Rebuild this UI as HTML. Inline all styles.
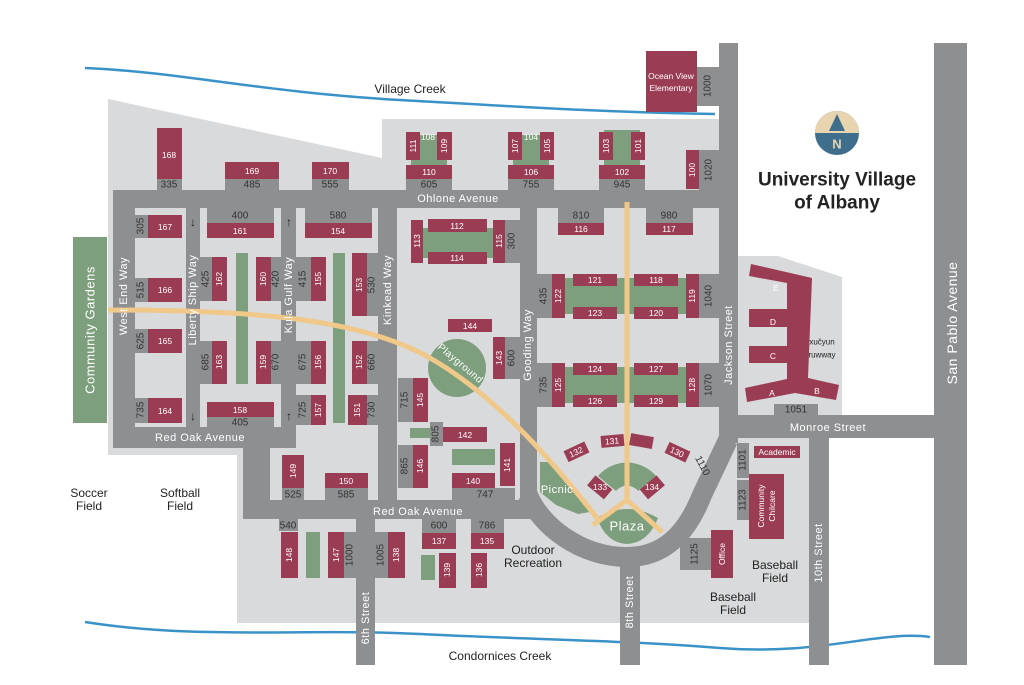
<!DOCTYPE html>
<html><head><meta charset="utf-8"><style>
html,body{margin:0;padding:0;background:#fff;}
svg{display:block;font-family:"Liberation Sans",sans-serif;}
.b{fill:#9b3c55}.r{fill:#8e8f91}.g{fill:#7d9f7d}.l{fill:#d9dadb}
text{text-anchor:middle;dominant-baseline:central}
.w{fill:#fff;font-size:8.5px}
.n{fill:#333;font-size:10px}
.s{fill:#fff;font-size:11px;letter-spacing:.5px}
.d{fill:#222;font-size:12px}
</style></head><body>
<svg width="1024" height="685" viewBox="0 0 1024 685">
<!-- light areas -->
<polygon class="l" points="108,99 382,158 382,119 720,119 720,438 809,438 809,623 237,623 237,455 108,455"/>
<polygon class="l" points="738,256 778,256 842,277 842,415 738,415"/>
<!-- creeks -->
<path d="M85,68 C180,72 260,92 400,100 S600,112 715,114" fill="none" stroke="#3a93c8" stroke-width="2.5"/>
<path d="M85,622 C200,640 300,628 420,634 S620,640 720,648 S880,630 930,637" fill="none" stroke="#3a93c8" stroke-width="2.5"/>
<!-- roads -->
<g class="r">
<rect x="113" y="190" width="625" height="18"/>
<rect x="113" y="190" width="22" height="258"/>
<rect x="113" y="427" width="183" height="21"/>
<rect x="243" y="427" width="27" height="92"/>
<rect x="186" y="208" width="14" height="219"/>
<rect x="281" y="208" width="15" height="219"/>
<rect x="378" y="208" width="19" height="311"/>
<rect x="520" y="208" width="17" height="300"/>
<rect x="719" y="43" width="19" height="400"/>
<rect x="243" y="500" width="290" height="19"/>
<rect x="356" y="519" width="19" height="146"/>
<rect x="620" y="555" width="20" height="110"/>
<rect x="809" y="438" width="20" height="227"/>
<rect x="738" y="415" width="229" height="23"/>
<rect x="934" y="43" width="33" height="622"/>
</g>
<path d="M528,495 C540,525 580,557 627,557 C670,557 690,525 702,495 L728,440" fill="none" stroke="#8e8f91" stroke-width="20"/>
<!-- stubs -->
<g class="r">
<rect x="157" y="179" width="25" height="11"/><rect x="225" y="179" width="54" height="11"/><rect x="312" y="179" width="37" height="11"/>
<rect x="406" y="179" width="46" height="11"/><rect x="508" y="179" width="46" height="11"/><rect x="599" y="179" width="46" height="11"/>
<rect x="699" y="150" width="20" height="40"/><rect x="697" y="67" width="22" height="39"/>
<rect x="135" y="215" width="13" height="23"/><rect x="135" y="278" width="13" height="24"/><rect x="135" y="329" width="13" height="24"/><rect x="135" y="398" width="13" height="25"/>
<rect x="207" y="208" width="67" height="15"/><rect x="305" y="208" width="67" height="15"/>
<rect x="200" y="257" width="12" height="44"/><rect x="271" y="257" width="10" height="44"/><rect x="296" y="257" width="15" height="44"/><rect x="367" y="253" width="11" height="63"/>
<rect x="200" y="341" width="12" height="43"/><rect x="271" y="341" width="10" height="43"/><rect x="296" y="341" width="15" height="43"/><rect x="367" y="341" width="11" height="43"/>
<rect x="207" y="417" width="67" height="10"/><rect x="296" y="395" width="15" height="30"/><rect x="367" y="395" width="11" height="30"/>
<rect x="505" y="220" width="15" height="43"/><rect x="558" y="208" width="46" height="15"/><rect x="646" y="208" width="47" height="15"/>
<rect x="537" y="274" width="15" height="44"/><rect x="699" y="274" width="20" height="44"/><rect x="505" y="337" width="15" height="42"/>
<rect x="537" y="363" width="15" height="44"/><rect x="699" y="363" width="20" height="44"/>
<rect x="398" y="378" width="15" height="44"/><rect x="430" y="422" width="13" height="24"/><rect x="398" y="445" width="15" height="43"/>
<rect x="282" y="488" width="22" height="12"/><rect x="325" y="488" width="43" height="12"/><rect x="452" y="488" width="63" height="12"/>
<rect x="279" y="519" width="19" height="12"/><rect x="344" y="532" width="12" height="46"/><rect x="375" y="532" width="13" height="46"/>
<rect x="422" y="519" width="34" height="14"/><rect x="471" y="519" width="33" height="14"/>
<rect x="774" y="404" width="44" height="11"/><rect x="737" y="443" width="12" height="35"/><rect x="737" y="480" width="12" height="40"/><rect x="680" y="538" width="31" height="32"/>
</g>
<!-- greens -->
<g class="g">
<rect x="73" y="237" width="34" height="186"/>
<rect x="411" y="135" width="36" height="30"/><rect x="513" y="135" width="36" height="30"/><rect x="604" y="130" width="36" height="35"/>
<rect x="236" y="253" width="12" height="131"/><rect x="333" y="253" width="12" height="170"/>
<rect x="423" y="228" width="70" height="30"/>
<rect x="565" y="278" width="121" height="36"/><rect x="565" y="367" width="121" height="36"/>
<circle cx="457" cy="368" r="29"/>
<rect x="410" y="428" width="20" height="10"/><rect x="452" y="449" width="43" height="16"/>
<rect x="306" y="532" width="14" height="46"/><rect x="421" y="555" width="14" height="25"/>
<polygon points="540,462 548,462 590,512 578,514 556,505 540,492"/>
<path d="M598,476 A38,38 0 0 1 656,476 L638,491 A14,14 0 0 0 616,491 Z"/>
<path d="M597,518 Q627,500 658,518 Q648,543 627,544 Q606,543 597,518 Z"/>
</g>
<!-- tan paths -->
<g fill="none" stroke="#f0c88a" stroke-width="5">
<path d="M108,310 C250,310 360,318 430,358 S560,470 600,522"/>
<path d="M627,202 L627,500 L662,532 M627,500 L593,525"/>
</g>
<!-- buildings -->
<g class="b">
<rect x="646" y="51" width="51" height="61"/>
<rect x="157" y="128" width="25" height="51"/><rect x="225" y="162" width="54" height="17"/><rect x="312" y="162" width="37" height="17"/>
<rect x="406" y="132" width="14" height="28"/><rect x="437" y="132" width="15" height="28"/><rect x="406" y="165" width="46" height="14"/>
<rect x="508" y="132" width="14" height="28"/><rect x="540" y="132" width="14" height="28"/><rect x="508" y="165" width="46" height="14"/>
<rect x="599" y="132" width="14" height="28"/><rect x="631" y="132" width="14" height="28"/><rect x="599" y="165" width="46" height="14"/>
<rect x="686" y="150" width="13" height="39"/>
<rect x="148" y="215" width="34" height="23"/><rect x="207" y="223" width="67" height="15"/><rect x="305" y="223" width="67" height="15"/>
<rect x="212" y="257" width="15" height="44"/><rect x="256" y="257" width="15" height="44"/><rect x="311" y="257" width="15" height="44"/><rect x="352" y="253" width="15" height="63"/>
<rect x="148" y="278" width="34" height="24"/><rect x="148" y="329" width="34" height="24"/>
<rect x="212" y="341" width="15" height="43"/><rect x="256" y="341" width="15" height="43"/><rect x="311" y="341" width="15" height="43"/><rect x="352" y="341" width="15" height="43"/>
<rect x="148" y="398" width="34" height="25"/><rect x="207" y="402" width="67" height="15"/>
<rect x="311" y="395" width="15" height="30"/><rect x="348" y="395" width="19" height="30"/>
<rect x="428" y="219" width="59" height="13"/><rect x="411" y="220" width="12" height="43"/><rect x="428" y="252" width="59" height="12"/><rect x="493" y="220" width="12" height="43"/>
<rect x="558" y="223" width="46" height="12"/><rect x="646" y="223" width="47" height="12"/>
<rect x="552" y="274" width="13" height="44"/><rect x="573" y="274" width="44" height="12"/><rect x="634" y="274" width="44" height="12"/><rect x="573" y="307" width="44" height="12"/><rect x="634" y="307" width="44" height="12"/><rect x="686" y="274" width="13" height="44"/>
<rect x="552" y="363" width="13" height="44"/><rect x="573" y="363" width="44" height="12"/><rect x="634" y="363" width="44" height="12"/><rect x="573" y="395" width="44" height="12"/><rect x="634" y="395" width="44" height="12"/><rect x="686" y="363" width="13" height="44"/>
<rect x="448" y="319" width="44" height="13"/><rect x="493" y="337" width="12" height="42"/>
<rect x="413" y="378" width="15" height="44"/><rect x="443" y="427" width="44" height="15"/>
<rect x="413" y="445" width="15" height="43"/><rect x="500" y="443" width="15" height="43"/><rect x="452" y="473" width="43" height="15"/>
<rect x="282" y="455" width="22" height="33"/><rect x="325" y="473" width="43" height="15"/>
<rect x="281" y="532" width="17" height="46"/><rect x="328" y="532" width="16" height="46"/><rect x="388" y="532" width="17" height="46"/>
<rect x="422" y="533" width="34" height="16"/><rect x="439" y="553" width="17" height="35"/><rect x="471" y="533" width="33" height="16"/><rect x="471" y="553" width="16" height="35"/>
<rect x="754" y="446" width="46" height="12"/><rect x="749" y="474" width="35" height="65"/><rect x="711" y="530" width="22" height="48"/>
<rect x="565" y="446" width="23" height="12" transform="rotate(-25 576 452)"/>
<rect x="601" y="435" width="23" height="12" transform="rotate(-5 612 441)"/>
<rect x="630" y="435" width="23" height="12" transform="rotate(10 641 441)"/>
<rect x="666" y="446" width="23" height="12" transform="rotate(25 677 452)"/>
<rect x="589" y="481" width="22" height="13" transform="rotate(40 600 487)"/>
<rect x="641" y="481" width="22" height="13" transform="rotate(-40 652 487)"/>
<polygon points="787,283 749,276 751,264 812,278 808,378 839,385 836,400 795,393 747,402 745,388 787,379 787,363 749,363 749,346 787,346 787,327 749,327 749,309 787,309"/>
</g>
<!-- building labels -->
<g class="w">
<text x="671" y="76">Ocean View</text><text x="671" y="88">Elementary</text>
<text x="169" y="155">168</text><text x="252" y="171">169</text><text x="330" y="171">170</text>
<text x="413" y="146" transform="rotate(-90 413 146)">111</text><text x="428" y="137">108</text><text x="444" y="146" transform="rotate(-90 444 146)">109</text><text x="429" y="172">110</text>
<text x="515" y="146" transform="rotate(-90 515 146)">107</text><text x="531" y="137">104</text><text x="547" y="146" transform="rotate(-90 547 146)">105</text><text x="531" y="172">106</text>
<text x="606" y="146" transform="rotate(-90 606 146)">103</text><text x="638" y="146" transform="rotate(-90 638 146)">101</text><text x="622" y="172">102</text>
<text x="692" y="170" transform="rotate(-90 692 170)">100</text>
<text x="165" y="227">167</text><text x="240" y="231">161</text><text x="338" y="231">154</text>
<text x="219" y="279" transform="rotate(-90 219 279)">162</text><text x="263" y="279" transform="rotate(-90 263 279)">160</text><text x="318" y="279" transform="rotate(-90 318 279)">155</text><text x="359" y="285" transform="rotate(-90 359 285)">153</text>
<text x="165" y="290">166</text><text x="165" y="341">165</text>
<text x="219" y="362" transform="rotate(-90 219 362)">163</text><text x="263" y="362" transform="rotate(-90 263 362)">159</text><text x="318" y="362" transform="rotate(-90 318 362)">156</text><text x="359" y="362" transform="rotate(-90 359 362)">152</text>
<text x="165" y="411">164</text><text x="240" y="410">158</text>
<text x="318" y="410" transform="rotate(-90 318 410)">157</text><text x="357" y="410" transform="rotate(-90 357 410)">151</text>
<text x="457" y="226">112</text><text x="417" y="241" transform="rotate(-90 417 241)">113</text><text x="457" y="258">114</text><text x="499" y="241" transform="rotate(-90 499 241)">115</text>
<text x="581" y="229">116</text><text x="669" y="229">117</text>
<text x="558" y="296" transform="rotate(-90 558 296)">122</text><text x="595" y="280">121</text><text x="656" y="280">118</text><text x="595" y="313">123</text><text x="656" y="313">120</text><text x="692" y="296" transform="rotate(-90 692 296)">119</text>
<text x="558" y="385" transform="rotate(-90 558 385)">125</text><text x="595" y="369">124</text><text x="656" y="369">127</text><text x="595" y="401">126</text><text x="656" y="401">129</text><text x="692" y="385" transform="rotate(-90 692 385)">128</text>
<text x="470" y="326">144</text><text x="499" y="358" transform="rotate(-90 499 358)">143</text>
<text x="420" y="400" transform="rotate(-90 420 400)">145</text><text x="465" y="435">142</text>
<text x="420" y="466" transform="rotate(-90 420 466)">146</text><text x="507" y="465" transform="rotate(-90 507 465)">141</text><text x="473" y="481">140</text>
<text x="293" y="471" transform="rotate(-90 293 471)">149</text><text x="346" y="481">150</text>
<text x="289" y="555" transform="rotate(-90 289 555)">148</text><text x="336" y="555" transform="rotate(-90 336 555)">147</text><text x="396" y="555" transform="rotate(-90 396 555)">138</text>
<text x="439" y="541">137</text><text x="447" y="570" transform="rotate(-90 447 570)">139</text><text x="487" y="541">135</text><text x="479" y="570" transform="rotate(-90 479 570)">136</text>
<text x="576" y="452" transform="rotate(-25 576 452)">132</text><text x="612" y="441" transform="rotate(-5 612 441)">131</text><text x="677" y="452" transform="rotate(25 677 452)">130</text>
<text x="600" y="487">133</text><text x="652" y="487">134</text>
<text x="777" y="452">Academic</text>
<text x="761" y="506" transform="rotate(-90 761 506)">Community</text><text x="772" y="506" transform="rotate(-90 772 506)">Chilcare</text>
<text x="722" y="554" transform="rotate(-90 722 554)">Office</text>
<text x="776" y="288">E</text><text x="773" y="322">D</text><text x="773" y="356">C</text><text x="772" y="393">A</text><text x="817" y="391">B</text>
</g>
<!-- numbers -->
<g class="n">
<text x="169" y="185">335</text><text x="252" y="185">485</text><text x="330" y="185">555</text><text x="429" y="185">605</text><text x="531" y="185">755</text><text x="622" y="185">945</text>
<text x="709" y="170" transform="rotate(-90 709 170)">1020</text><text x="708" y="86" transform="rotate(-90 708 86)">1000</text>
<text x="141" y="226" transform="rotate(-90 141 226)">305</text><text x="141" y="290" transform="rotate(-90 141 290)">515</text><text x="141" y="341" transform="rotate(-90 141 341)">625</text><text x="141" y="410" transform="rotate(-90 141 410)">735</text>
<text x="240" y="216">400</text><text x="338" y="216">580</text>
<text x="206" y="279" transform="rotate(-90 206 279)">425</text><text x="276" y="279" transform="rotate(-90 276 279)">420</text><text x="303" y="279" transform="rotate(-90 303 279)">415</text><text x="372" y="285" transform="rotate(-90 372 285)">530</text>
<text x="206" y="362" transform="rotate(-90 206 362)">685</text><text x="276" y="362" transform="rotate(-90 276 362)">670</text><text x="303" y="362" transform="rotate(-90 303 362)">675</text><text x="372" y="362" transform="rotate(-90 372 362)">660</text>
<text x="240" y="423">405</text><text x="303" y="410" transform="rotate(-90 303 410)">725</text><text x="372" y="410" transform="rotate(-90 372 410)">730</text>
<text x="512" y="241" transform="rotate(-90 512 241)">300</text><text x="581" y="216">810</text><text x="669" y="216">980</text>
<text x="544" y="296" transform="rotate(-90 544 296)">435</text><text x="709" y="296" transform="rotate(-90 709 296)">1040</text>
<text x="512" y="358" transform="rotate(-90 512 358)">600</text><text x="544" y="385" transform="rotate(-90 544 385)">735</text><text x="709" y="385" transform="rotate(-90 709 385)">1070</text>
<text x="405" y="400" transform="rotate(-90 405 400)">715</text><text x="436" y="434" transform="rotate(-90 436 434)">805</text><text x="405" y="466" transform="rotate(-90 405 466)">865</text>
<text x="293" y="495">525</text><text x="346" y="495">585</text><text x="485" y="495">747</text>
<text x="288" y="526">540</text><text x="350" y="555" transform="rotate(-90 350 555)">1000</text><text x="381" y="555" transform="rotate(-90 381 555)">1005</text>
<text x="439" y="526">600</text><text x="487" y="526">786</text>
<text x="796" y="410">1051</text><text x="743" y="460" transform="rotate(-90 743 460)">1101</text><text x="743" y="500" transform="rotate(-90 743 500)">1123</text><text x="695" y="554" transform="rotate(-90 695 554)">1125</text>
<text x="702" y="466" transform="rotate(62 702 466)">1110</text>
</g>
<!-- arrows -->
<g fill="#222" font-size="12px">
<text x="193" y="222">↓</text><text x="193" y="416">↓</text><text x="289" y="222">↑</text><text x="289" y="416">↑</text>
</g>
<!-- road names -->
<g class="s">
<text x="458" y="199">Ohlone Avenue</text>
<text x="124" y="296" transform="rotate(-90 124 296)">West End Way</text>
<text x="193" y="300" transform="rotate(-90 193 300)">Liberty Ship Way</text>
<text x="289" y="295" transform="rotate(-90 289 295)">Kula Gulf Way</text>
<text x="388" y="290" transform="rotate(-90 388 290)">Kinkead Way</text>
<text x="528" y="345" transform="rotate(-90 528 345)">Gooding Way</text>
<text x="729" y="345" transform="rotate(-90 729 345)">Jackson Street</text>
<text x="200" y="438">Red Oak Avenue</text>
<text x="418" y="512">Red Oak Avenue</text>
<text x="828" y="428">Monroe Street</text>
<text x="366" y="618" transform="rotate(-90 366 618)">6th Street</text>
<text x="630" y="602" transform="rotate(-90 630 602)">8th Street</text>
<text x="819" y="553" transform="rotate(-90 819 553)">10th Street</text>
<text x="952" y="323" transform="rotate(-90 952 323)" style="font-size:14px">San Pablo Avenue</text>
<text x="90" y="330" transform="rotate(-90 90 330)" style="font-size:13px">Community Gardens</text>
<text x="557" y="490">Picnic</text>
<text x="627" y="526" style="font-size:13px">Plaza</text>
<text x="460" y="364" transform="rotate(40 460 364)" style="font-size:10px">Playground</text>
</g>
<g class="d">
<text x="410" y="89">Village Creek</text>
<text x="500" y="656">Condornices Creek</text>
<text x="89" y="493">Soccer</text><text x="89" y="506">Field</text>
<text x="180" y="493">Softball</text><text x="180" y="506">Field</text>
<text x="533" y="550">Outdoor</text><text x="533" y="563">Recreation</text>
<text x="775" y="565">Baseball</text><text x="775" y="578">Field</text>
<text x="733" y="597">Baseball</text><text x="733" y="610">Field</text>
<text x="822" y="342" style="font-size:8px">xučyun</text><text x="822" y="355" style="font-size:8px">ruwway</text>
</g>
<!-- compass & title -->
<circle cx="837" cy="133" r="22" fill="#3f6d8c"/>
<path d="M815,133 A22,22 0 0 1 859,133 Z" fill="#e8d5b0"/>
<polygon points="837,114 829,131 845,131" fill="#3f6d8c"/>
<text x="837" y="144" fill="#e8d5b0" style="font-size:13px;font-weight:bold">N</text>
<text x="837" y="180" fill="#222" style="font-size:19px;font-weight:bold">University Village</text>
<text x="837" y="203" fill="#222" style="font-size:19px;font-weight:bold">of Albany</text>
</svg>
</body></html>
